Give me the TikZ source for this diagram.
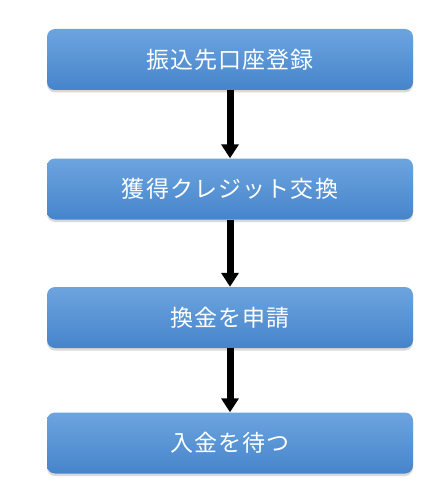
\documentclass[tikz,border=0pt]{standalone}
\usepackage{fontspec}
\newfontfamily\jpfont[LetterSpace=5]{Noto Sans CJK JP}
\usetikzlibrary{arrows.meta, shadows}
\definecolor{boxtop}{RGB}{108,164,222}
\definecolor{boxbottom}{RGB}{70,132,203}
\begin{document}
\begin{tikzpicture}[x=1pt,y=-1pt,font=\jpfont\fontsize{23pt}{27pt}\selectfont,
  stepbox/.style={rounded corners=8pt, minimum width=366pt, minimum height=61pt, inner sep=0pt,
    top color=boxtop, bottom color=boxbottom, text=white,
    drop shadow={opacity=0.3, shadow xshift=0pt, shadow yshift=-2.5pt}},
  flowarrow/.style={line width=7pt, -{Triangle[width=17pt,length=14pt]}}]
\useasboundingbox (0,0) rectangle (446,497);

\coordinate (c1) at (230,59.5);
\coordinate (c2) at (230,189);
\coordinate (c3) at (230,317.5);
\coordinate (c4) at (230,443);

\node[stepbox] (register) at (c1) {振込先口座登録};
\node[stepbox] (exchange) at (c2) {獲得クレジット交換};
\node[stepbox] (apply) at (c3) {換金を申請};
\node[stepbox] (wait) at (c4) {入金を待つ};

\draw[flowarrow] (register) -- (exchange);
\draw[flowarrow] (exchange) -- (apply);
\draw[flowarrow] (apply) -- (wait);

\end{tikzpicture}
\end{document}
